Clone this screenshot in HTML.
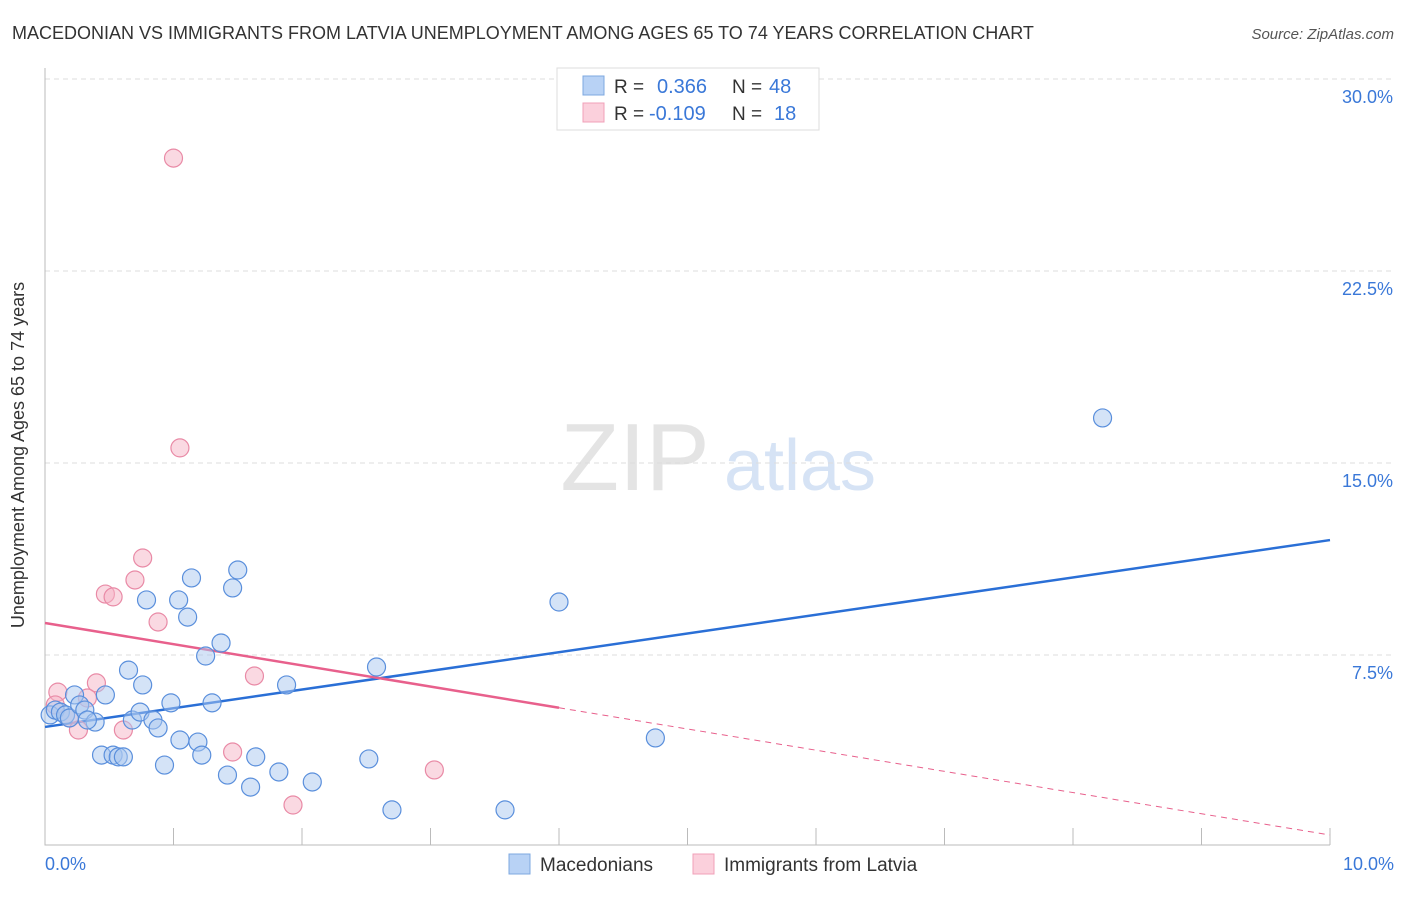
<!DOCTYPE html>
<html><head><meta charset="utf-8"><style>
body{margin:0;background:#fff;font-family:"Liberation Sans",sans-serif}
svg text{font-family:"Liberation Sans",sans-serif}
</style></head><body>
<svg id="chart" width="1406" height="892" viewBox="0 0 1406 892">
<text x="12" y="39" font-size="18" fill="#333">MACEDONIAN VS IMMIGRANTS FROM LATVIA UNEMPLOYMENT AMONG AGES 65 TO 74 YEARS CORRELATION CHART</text>
<text x="1394" y="39" font-size="15" fill="#555" font-style="italic" text-anchor="end">Source: ZipAtlas.com</text>
<g><text x="635" y="490" font-size="96" fill="#e4e4e4" font-family="Liberation Serif,serif" text-anchor="middle">ZIP</text><text x="800" y="490" font-size="72" fill="#d6e3f5" text-anchor="middle">atlas</text></g>
<g id="grid"></g><g id="axes"></g><g id="lines"></g><g id="points"></g>
<text x="24" y="455" font-size="18" fill="#333" transform="rotate(-90 24 455)" text-anchor="middle">Unemployment Among Ages 65 to 74 years</text>
<text x="45" y="870" font-size="18" fill="#3a78d8">0.0%</text>
<text x="1394" y="870" font-size="18" fill="#3a78d8" text-anchor="end">10.0%</text>
<g>
<rect x="557" y="68" width="262" height="62" fill="#fff" stroke="#ddd"/>
<rect x="583" y="76" width="21" height="19" fill="#b8d2f5" stroke="#7ea8e0"/>
<rect x="583" y="103" width="21" height="19" fill="#fbd0dc" stroke="#f0a0b8"/>
<text x="614" y="93" font-size="19" fill="#333">R = </text><text x="657" y="93" font-size="20" fill="#3a78d8">0.366</text>
<text x="732" y="93" font-size="19" fill="#333">N = </text><text x="769" y="93" font-size="20" fill="#3a78d8">48</text>
<text x="614" y="120" font-size="19" fill="#333">R = </text><text x="649" y="120" font-size="20" fill="#3a78d8">-0.109</text>
<text x="732" y="120" font-size="19" fill="#333">N = </text><text x="774" y="120" font-size="20" fill="#3a78d8">18</text>
</g>
<g>
<rect x="509" y="854" width="21" height="20" fill="#b8d2f5" stroke="#7ea8e0"/>
<text x="540" y="871" font-size="19" fill="#333">Macedonians</text>
<rect x="693" y="854" width="21" height="20" fill="#fbd0dc" stroke="#f0a0b8"/>
<text x="724" y="871" font-size="19" fill="#333">Immigrants from Latvia</text>
</g>
</svg>
<script>
const yTicks=[7.5,15,22.5,30];
const yTickLabels=["7.5%","15.0%","22.5%","30.0%"];
const blueX=[0.04,0.08,0.12,0.16,0.19,0.23,0.27,0.31,0.39,0.33,0.47,0.44,0.53,0.57,0.61,0.65,0.68,0.74,0.76,0.79,0.84,0.88,0.93,0.98,1.04,1.05,1.11,1.14,1.19,1.22,1.25,1.30,1.37,1.42,1.46,1.50,1.60,1.64,1.82,1.88,2.08,2.52,2.58,2.70,3.58,4.00,4.75,8.23];
const blueY=[5.16,5.35,5.27,5.16,5.04,5.94,5.55,5.35,4.88,4.96,5.94,3.59,3.59,3.52,3.52,6.91,4.96,5.27,6.33,9.65,4.96,4.65,3.20,5.63,9.65,4.18,8.98,10.51,4.10,3.59,7.46,5.63,7.97,2.81,10.12,10.82,2.34,3.52,2.93,6.33,2.54,3.44,7.03,1.45,1.45,9.57,4.26,16.76];
const pinkX=[1.00,1.05,0.76,0.70,0.47,0.53,0.88,0.40,0.33,0.10,0.08,0.19,0.26,0.61,1.46,1.63,1.93,3.03];
const pinkY=[26.91,15.59,11.29,10.43,9.88,9.77,8.79,6.41,5.82,6.05,5.55,5.04,4.57,4.57,3.71,6.68,1.64,3.01];
const blueTrend=[4.69,11.99];
const pinkTrend=[8.75,0.47];
const pinkSolidEnd=4.0;
const NS="http://www.w3.org/2000/svg";
const xs=v=>45+v*128.5, ys=v=>847-v*25.6;
function mk(t,a,p){const e=document.createElementNS(NS,t);for(const k in a)e.setAttribute(k,a[k]);p.appendChild(e);return e;}
const grid=document.getElementById('grid'),axes=document.getElementById('axes'),lines=document.getElementById('lines'),pts=document.getElementById('points');
yTicks.forEach((t,i)=>{
 const l=mk('line',{x1:45,x2:1394,y1:ys(t),y2:ys(t),stroke:'#ddd','stroke-dasharray':'5,4'},grid);
 
 
 const tx=mk('text',{x:1393,y:ys(t)+24,'font-size':18,fill:'#3a78d8','text-anchor':'end'},grid);
 tx.textContent=yTickLabels[i];
 
 
});
const ax=mk('path',{d:'M45 68V845H1330',stroke:'#bbb',fill:'none'},axes);


for(let i=1;i<=10;i++){const tk=mk('line',{x1:xs(i),x2:xs(i),y1:828,y2:845,stroke:'#bbb'},axes);
 
 }
function dots(X,Y,fill,stroke,name){X.forEach((x,i)=>{const c=mk('circle',{cx:xs(x),cy:ys(Y[i]),r:9,fill:fill,'fill-opacity':0.5,stroke:stroke,'stroke-width':1.2},pts);
 
 });}
dots(pinkX,pinkY,'#f6b3c6','#e98aa6','latvia-point');
dots(blueX,blueY,'#a9c7f0','#5a8fdc','macedonian-point');
const bl=mk('line',{x1:xs(0),y1:ys(blueTrend[0]),x2:xs(10),y2:ys(blueTrend[1]),stroke:'#2a6fd6','stroke-width':2.5},lines);


const pAt=x=>pinkTrend[0]+(pinkTrend[1]-pinkTrend[0])*x/10;
const pl=mk('line',{x1:xs(0),y1:ys(pinkTrend[0]),x2:xs(pinkSolidEnd),y2:ys(pAt(pinkSolidEnd)),stroke:'#e8608c','stroke-width':2.5},lines);


const pd=mk('line',{x1:xs(pinkSolidEnd),y1:ys(pAt(pinkSolidEnd)),x2:xs(10),y2:ys(pinkTrend[1]),stroke:'#e8608c','stroke-width':1,'stroke-dasharray':'6,5'},lines);


</script>
</body></html>
